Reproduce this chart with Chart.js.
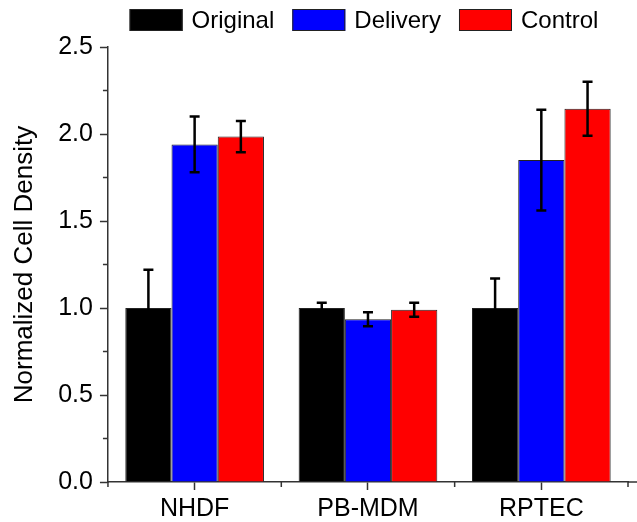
<!DOCTYPE html>
<html>
<head>
<meta charset="utf-8">
<script src="https://cdn.jsdelivr.net/npm/chart.js"></script>
<style>
  html, body { margin: 0; padding: 0; background: #fff; }
  #wrap { width: 637px; height: 522px; }
</style>
</head>
<body>
<div id="wrap"><canvas id="cellDensityChart"></canvas></div>
<script>
const categories = ["NHDF", "PB-MDM", "RPTEC"];
const seriesLabels = ["Original", "Delivery", "Control"];
const originalValues = [1.0, 1.0, 1.0];
const originalErrors = [0.22, 0.03, 0.17];
const deliveryValues = [1.94, 0.935, 1.85];
const deliveryErrors = [0.16, 0.04, 0.29];
const controlValues = [1.985, 0.99, 2.145];
const controlErrors = [0.09, 0.04, 0.155];
const minorYTicks = [0.25, 0.75, 1.25, 1.75, 2.25];

const FONT = "'Liberation Sans', Arial, sans-serif";
const AXIS_COLOR = "#333";

// Error bars drawn on top of each bar
const errorBarPlugin = {
  id: "errorBars",
  afterDatasetsDraw(chart) {
    const ctx = chart.ctx;
    const yScale = chart.scales.y;
    ctx.save();
    ctx.strokeStyle = "#000";
    ctx.lineWidth = 2.5;
    chart.data.datasets.forEach((ds, i) => {
      const meta = chart.getDatasetMeta(i);
      if (meta.hidden) return;
      meta.data.forEach((bar, j) => {
        const err = ds.errors[j];
        const top = yScale.getPixelForValue(ds.data[j] + err);
        const bottom = yScale.getPixelForValue(ds.data[j] - err);
        const half = 5;
        ctx.beginPath();
        ctx.moveTo(bar.x, top);
        ctx.lineTo(bar.x, bottom);
        ctx.moveTo(bar.x - half, top);
        ctx.lineTo(bar.x + half, top);
        ctx.moveTo(bar.x - half, bottom);
        ctx.lineTo(bar.x + half, bottom);
        ctx.stroke();
      });
    });
    ctx.restore();
  },
};

// Minor ticks on both axes
const minorTicksPlugin = {
  id: "minorTicks",
  afterDraw(chart) {
    const { ctx, scales: { x, y } } = chart;
    ctx.save();
    ctx.strokeStyle = AXIS_COLOR;
    ctx.lineWidth = 1.5;
    ctx.beginPath();
    minorYTicks.forEach((v) => {
      const py = y.getPixelForValue(v);
      ctx.moveTo(x.left - 5, py);
      ctx.lineTo(x.left, py);
    });
    const w = (x.right - x.left) / categories.length;
    for (let i = 0; i <= categories.length; i++) {
      const px = x.left + i * w;
      ctx.moveTo(px, y.bottom);
      ctx.lineTo(px, y.bottom + 5);
    }
    // axis line runs on to the right edge
    ctx.moveTo(x.right, y.bottom);
    ctx.lineTo(chart.width, y.bottom);
    ctx.stroke();
    ctx.restore();
  },
};

// Legend row above the plot, boxes 53x22
const topLegendPlugin = {
  id: "topLegend",
  afterDraw(chart) {
    const ctx = chart.ctx;
    const area = chart.chartArea;
    const boxW = 53, boxH = 22, gap = 9, itemGap = 18, top = 9;
    ctx.save();
    ctx.font = "24px " + FONT;
    ctx.textBaseline = "middle";
    const items = chart.data.datasets.map((ds) => ({
      label: ds.label,
      color: ds.backgroundColor,
      width: boxW + gap + ctx.measureText(ds.label).width,
    }));
    const total = items.reduce((s, it) => s + it.width, 0) + itemGap * (items.length - 1);
    let x = (area.left + area.right) / 2 - 4 - total / 2;
    items.forEach((it) => {
      ctx.fillStyle = it.color;
      ctx.fillRect(x, top, boxW, boxH);
      ctx.strokeStyle = "#222";
      ctx.lineWidth = 1;
      ctx.strokeRect(x + 0.5, top + 0.5, boxW - 1, boxH - 1);
      ctx.fillStyle = "#000";
      ctx.fillText(it.label, x + boxW + gap, top + boxH / 2 + 1);
      x += it.width + itemGap;
    });
    ctx.restore();
  },
};

new Chart(document.getElementById("cellDensityChart").getContext("2d"), {
  type: "bar",
  data: {
    labels: categories,
    datasets: [
      {
        label: seriesLabels[0],
        data: originalValues,
        errors: originalErrors,
        backgroundColor: "#000000",
        borderColor: "#222",
        borderWidth: 1,
      },
      {
        label: seriesLabels[1],
        data: deliveryValues,
        errors: deliveryErrors,
        backgroundColor: "#0000ff",
        borderColor: "#222",
        borderWidth: 1,
      },
      {
        label: seriesLabels[2],
        data: controlValues,
        errors: controlErrors,
        backgroundColor: "#ff0000",
        borderColor: "#222",
        borderWidth: 1,
      },
    ],
  },
  options: {
    responsive: true,
    maintainAspectRatio: false,
    animation: false,
    layout: {
      padding: { top: 47, right: 9, left: -3, bottom: -6 },
    },
    datasets: {
      bar: {
        categoryPercentage: 0.8,
        barPercentage: 1.0,
      },
    },
    plugins: {
      legend: { display: false },
      tooltip: { enabled: false },
    },
    scales: {
      x: {
        grid: {
          offset: false,
          drawOnChartArea: false,
          tickLength: 8,
          tickColor: AXIS_COLOR,
          tickWidth: 1.5,
        },
        border: { color: AXIS_COLOR, width: 1.5 },
        ticks: {
          color: "#000",
          padding: 4,
          font: { family: FONT, size: 25 },
        },
      },
      y: {
        min: 0,
        max: 2.5,
        grid: {
          drawOnChartArea: false,
          tickLength: 8,
          tickColor: AXIS_COLOR,
          tickWidth: 1.5,
        },
        border: { color: AXIS_COLOR, width: 1.5 },
        ticks: {
          stepSize: 0.5,
          color: "#000",
          padding: 7,
          font: { family: FONT, size: 25 },
          callback: (v) => v.toFixed(1),
        },
        title: {
          display: true,
          text: "Normalized Cell Density",
          color: "#000",
          padding: { top: 12, bottom: 11 },
          font: { family: FONT, size: 26 },
        },
      },
    },
  },
  plugins: [errorBarPlugin, minorTicksPlugin, topLegendPlugin],
});
</script>
</body>
</html>
